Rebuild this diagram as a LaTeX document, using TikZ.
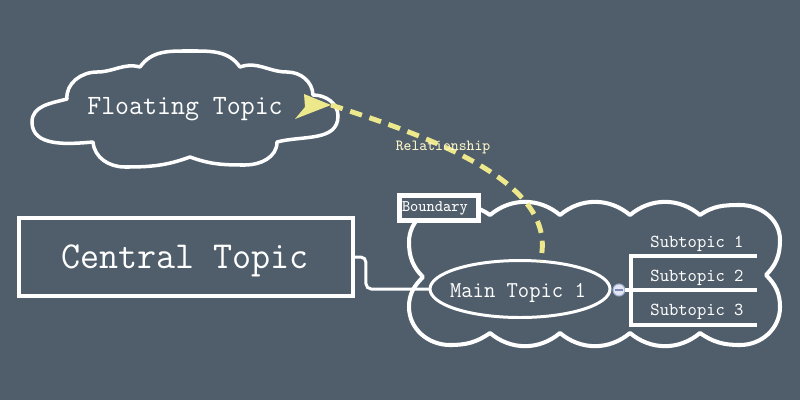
\documentclass[tikz,border=0pt]{standalone}
\usepackage{fontspec}
\usetikzlibrary{shapes.geometric}
\newfontfamily\monof[FakeStretch=0.97]{Latin Modern Mono}
\definecolor{bg}{RGB}{80,94,107}
\definecolor{relc}{RGB}{238,232,140}
\definecolor{reltext}{RGB}{250,246,200}
\definecolor{colfill}{RGB}{226,231,243}
\definecolor{coldraw}{RGB}{160,175,212}
\definecolor{colminus}{RGB}{120,138,180}
\begin{document}
\begin{tikzpicture}[x=0.02cm,y=0.02cm,
  every node/.style={inner sep=0pt,outer sep=0pt},
  txt/.style={text=white,font=\monof},
  topicbox/.style={draw=white,line width=2.3pt,rectangle,minimum width=6.68cm,minimum height=1.56cm},
  mainell/.style={draw=white,line width=1.7pt,ellipse,minimum width=3.6cm,minimum height=1.14cm},
  cloudline/.style={draw=white,line join=round},
  conn/.style={draw=white,line width=1.7pt},
  subline/.style={draw=white,line width=2pt},
  labelbox/.style={draw=white,fill=bg,line width=2.8pt,rectangle,minimum width=1.58cm,minimum height=0.5cm},
  relline/.style={draw=relc,line width=2.8pt,dash pattern=on 7pt off 4.5pt},
  collapsebtn/.style={circle,draw=coldraw,fill=colfill,line width=0.6pt,minimum size=0.24cm}
]
\fill[bg] (0,0) rectangle (800,-400);
\useasboundingbox (0,0) rectangle (800,-400);

% Boundary cloud
\draw[cloudline,line width=2.3pt] (423,-277) to[out=135,in=270] (409,-242) to[out=90,in=180] (450,-205)
  to[out=0,in=145] (490,-215) to[out=40,in=140] (560,-215) to[out=40,in=140] (630,-215)
  to[out=40,in=140] (700,-215) to[out=35,in=180] (740,-205) to[out=0,in=90] (780,-240)
  to[out=270,in=45] (766,-275) to[out=-45,in=90] (780,-307) to[out=270,in=0] (740,-345)
  to[out=180,in=-35] (700,-333) to[out=220,in=-40] (630,-333) to[out=220,in=-40] (560,-333)
  to[out=220,in=-40] (490,-333) to[out=215,in=0] (450,-345) to[out=180,in=270] (409,-307)
  to[out=90,in=225] (423,-277) -- cycle;
\node[labelbox] (boundary) at (439,-208) {};
\node[txt,anchor=base west,font=\monof\fontsize{9.2}{11}\selectfont] (boundarytext) at (402,-211) {Boundary};

% Floating topic cloud
\draw[cloudline,line width=2pt] (67,-99) to[out=95,in=180] (97,-72) to[out=0,in=165] (140,-67)
  to[out=55,in=180] (190,-51) to[out=0,in=125] (240,-67)
  to[out=20,in=180] (287,-72) to[out=0,in=92] (313,-95)
  to[out=0,in=90] (338,-116) to[out=270,in=15] (277,-142)
  to[out=270,in=0] (245,-165) to[out=180,in=340] (190,-157)
  to[out=200,in=0] (125,-167) to[out=180,in=275] (93,-142)
  to[out=185,in=270] (32,-122) to[out=90,in=195] (67,-99) -- cycle;
\node[txt,anchor=base,font=\monof\fontsize{15.9}{19}\selectfont] (floating) at (185,-114) {Floating Topic};

% Central topic
\node[topicbox] (central) at (186,-257) {};
\node[txt,anchor=base,font=\monof\fontsize{21.7}{26}\selectfont] (centraltext) at (185,-268) {Central Topic};

% Main topic
\node[mainell] (main) at (520,-289) {};
\node[txt,anchor=base,font=\monof\fontsize{12.9}{15}\selectfont] (maintext) at (518,-297) {Main Topic 1};

% Connector central -> main
\draw[conn,rounded corners=3pt] (central.east) -- ++(13,0) |- (main.west);

% Collapse button and subtopics
\node[collapsebtn] (collapse) at (619,-290) {};
\draw[colminus,line width=0.8pt] ([xshift=-2.5pt]collapse.center) -- ([xshift=2.5pt]collapse.center);
\coordinate (br) at (631,-290);
\coordinate (s1end) at (757,-256);
\coordinate (s2end) at (757,-290);
\coordinate (s3end) at (757,-325);
\draw[subline] (collapse.east) -- (br);
\draw[subline] (s1end) -| (br) |- (s3end);
\draw[subline] (br) -- (s2end);
\node[txt,anchor=base,font=\monof\fontsize{10.4}{12}\selectfont] (sub1) at (697,-247) {Subtopic 1};
\node[txt,anchor=base,font=\monof\fontsize{10.4}{12}\selectfont] (sub2) at (697,-281) {Subtopic 2};
\node[txt,anchor=base,font=\monof\fontsize{10.4}{12}\selectfont] (sub3) at (697,-315) {Subtopic 3};

% Relationship
\coordinate (relstart) at (331,-105);
\draw[relline] (relstart) .. controls (440,-140) and (560,-185) .. (main.54);
\fill[relc] (relstart) -- ++(-27,11) -- ++(1,-13) -- ++(-10,-12) -- cycle;
\node[anchor=base,text=reltext,font=\monof\fontsize{8.8}{10}\selectfont] (reltxt) at (443,-150) {Relationship};
\end{tikzpicture}
\end{document}
